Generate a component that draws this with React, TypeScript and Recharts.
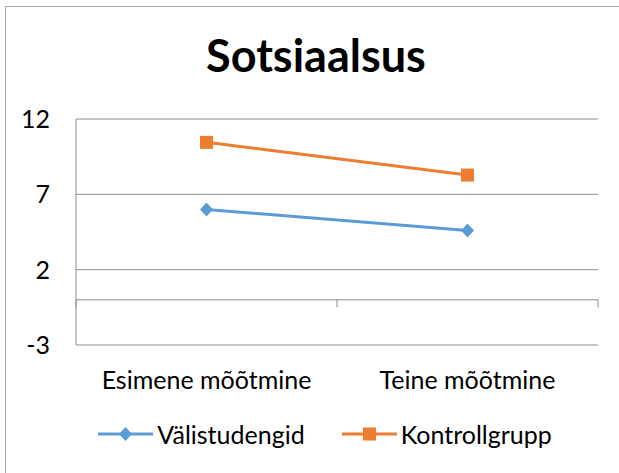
import { CartesianGrid, Legend, Line, LineChart, ReferenceLine, XAxis, YAxis } from 'recharts';

const categories = ['Esimene mõõtmine', 'Teine mõõtmine'];
const valistudengid = [6.0, 4.6];
const kontrollgrupp = [10.45, 8.28];
const yTicks = [-3, 2, 7, 12];
const xTicks = [0.5, 1.5];
const boundaries = [0, 1, 2];

const data = categories.map((name, i) => ({
    name,
    idx: i + 0.5,
    valis: valistudengid[i],
    kontroll: kontrollgrupp[i],
}));

const BLUE = '#5B9BD5';
const ORANGE = '#ED7D31';
const GRID = '#8c8c8c';
const FONT = 'Lato, "Open Sans", sans-serif';

const Diamond = (props: any) => {
    const { cx, cy } = props;
    return <path key={`d${cx}`} d={`M${cx},${cy - 7}L${cx + 6.5},${cy}L${cx},${cy + 7}L${cx - 6.5},${cy}Z`} fill={BLUE} />;
};

const Square = (props: any) => {
    const { cx, cy } = props;
    return <rect key={`s${cx}`} x={cx - 6.5} y={cy - 6.5} width={13} height={13} fill={ORANGE} />;
};

const LegendContent = () => (
    <div style={{ display: 'flex', justifyContent: 'center', alignItems: 'center', fontFamily: FONT, fontSize: 25, color: '#000' }}>
        <svg width={55} height={16}>
            <line x1={0} y1={8} x2={55} y2={8} stroke={BLUE} strokeWidth={3} />
            <path d='M27.5,1L34,8L27.5,15L21,8Z' fill={BLUE} />
        </svg>
        <span style={{ marginLeft: 4, marginRight: 37 }}>Välistudengid</span>
        <svg width={55} height={16}>
            <line x1={0} y1={8} x2={55} y2={8} stroke={ORANGE} strokeWidth={3} />
            <rect x={21} y={1.5} width={13} height={13} fill={ORANGE} />
        </svg>
        <span style={{ marginLeft: 4 }}>Kontrollgrupp</span>
    </div>
);

export default function App() {
    return (
        <div style={{ position: 'absolute', left: 0, top: 0, width: 619, height: 473, overflow: 'hidden', background: '#fff' }}>
            <div style={{ position: 'absolute', left: 5, top: 6, width: 700, height: 600, border: '1px solid #a6a6a6' }} />
            <div
                style={{
                    position: 'absolute',
                    left: 0,
                    width: 632,
                    top: 30,
                    textAlign: 'center',
                    fontFamily: FONT,
                    fontWeight: 'bold',
                    fontSize: 45,
                    lineHeight: '50px',
                    color: '#000',
                }}
            >
                Sotsiaalsus
            </div>
            <div style={{ position: 'absolute', left: 0, top: 0 }}>
                <LineChart width={619} height={473} data={data} margin={{ top: 119, right: 21, bottom: 0, left: 0 }}>
                    <CartesianGrid vertical={false} stroke={GRID} strokeWidth={1} />
                    <XAxis
                        dataKey='idx'
                        type='number'
                        domain={[0, 2]}
                        ticks={xTicks}
                        tickFormatter={(v: number) => categories[Math.floor(v)]}
                        height={128}
                        axisLine={false}
                        tickLine={false}
                        tick={{ fill: '#000', fontSize: 25, fontFamily: FONT }}
                        tickMargin={20}
                    />
                    <YAxis
                        domain={[-3, 12]}
                        ticks={yTicks}
                        width={76}
                        axisLine={{ stroke: GRID }}
                        tickLine={false}
                        tickSize={0}
                        tickMargin={26}
                        tick={{ fill: '#000', fontSize: 25, fontFamily: FONT }}
                    />
                    <ReferenceLine y={0} stroke={GRID} />
                    {boundaries.map((b) => (
                        <ReferenceLine
                            key={b}
                            segment={[
                                { x: b, y: 0 },
                                { x: b, y: -0.5 },
                            ]}
                            stroke={GRID}
                        />
                    ))}
                    <Line
                        type='linear'
                        dataKey='valis'
                        name='Välistudengid'
                        stroke={BLUE}
                        strokeWidth={3}
                        dot={Diamond}
                        activeDot={false}
                        isAnimationActive={false}
                    />
                    <Line
                        type='linear'
                        dataKey='kontroll'
                        name='Kontrollgrupp'
                        stroke={ORANGE}
                        strokeWidth={3}
                        dot={Square}
                        activeDot={false}
                        isAnimationActive={false}
                    />
                    <Legend verticalAlign='middle' content={LegendContent} wrapperStyle={{ top: 419, left: 0, width: 650 }} />
                </LineChart>
            </div>
        </div>
    );
}
